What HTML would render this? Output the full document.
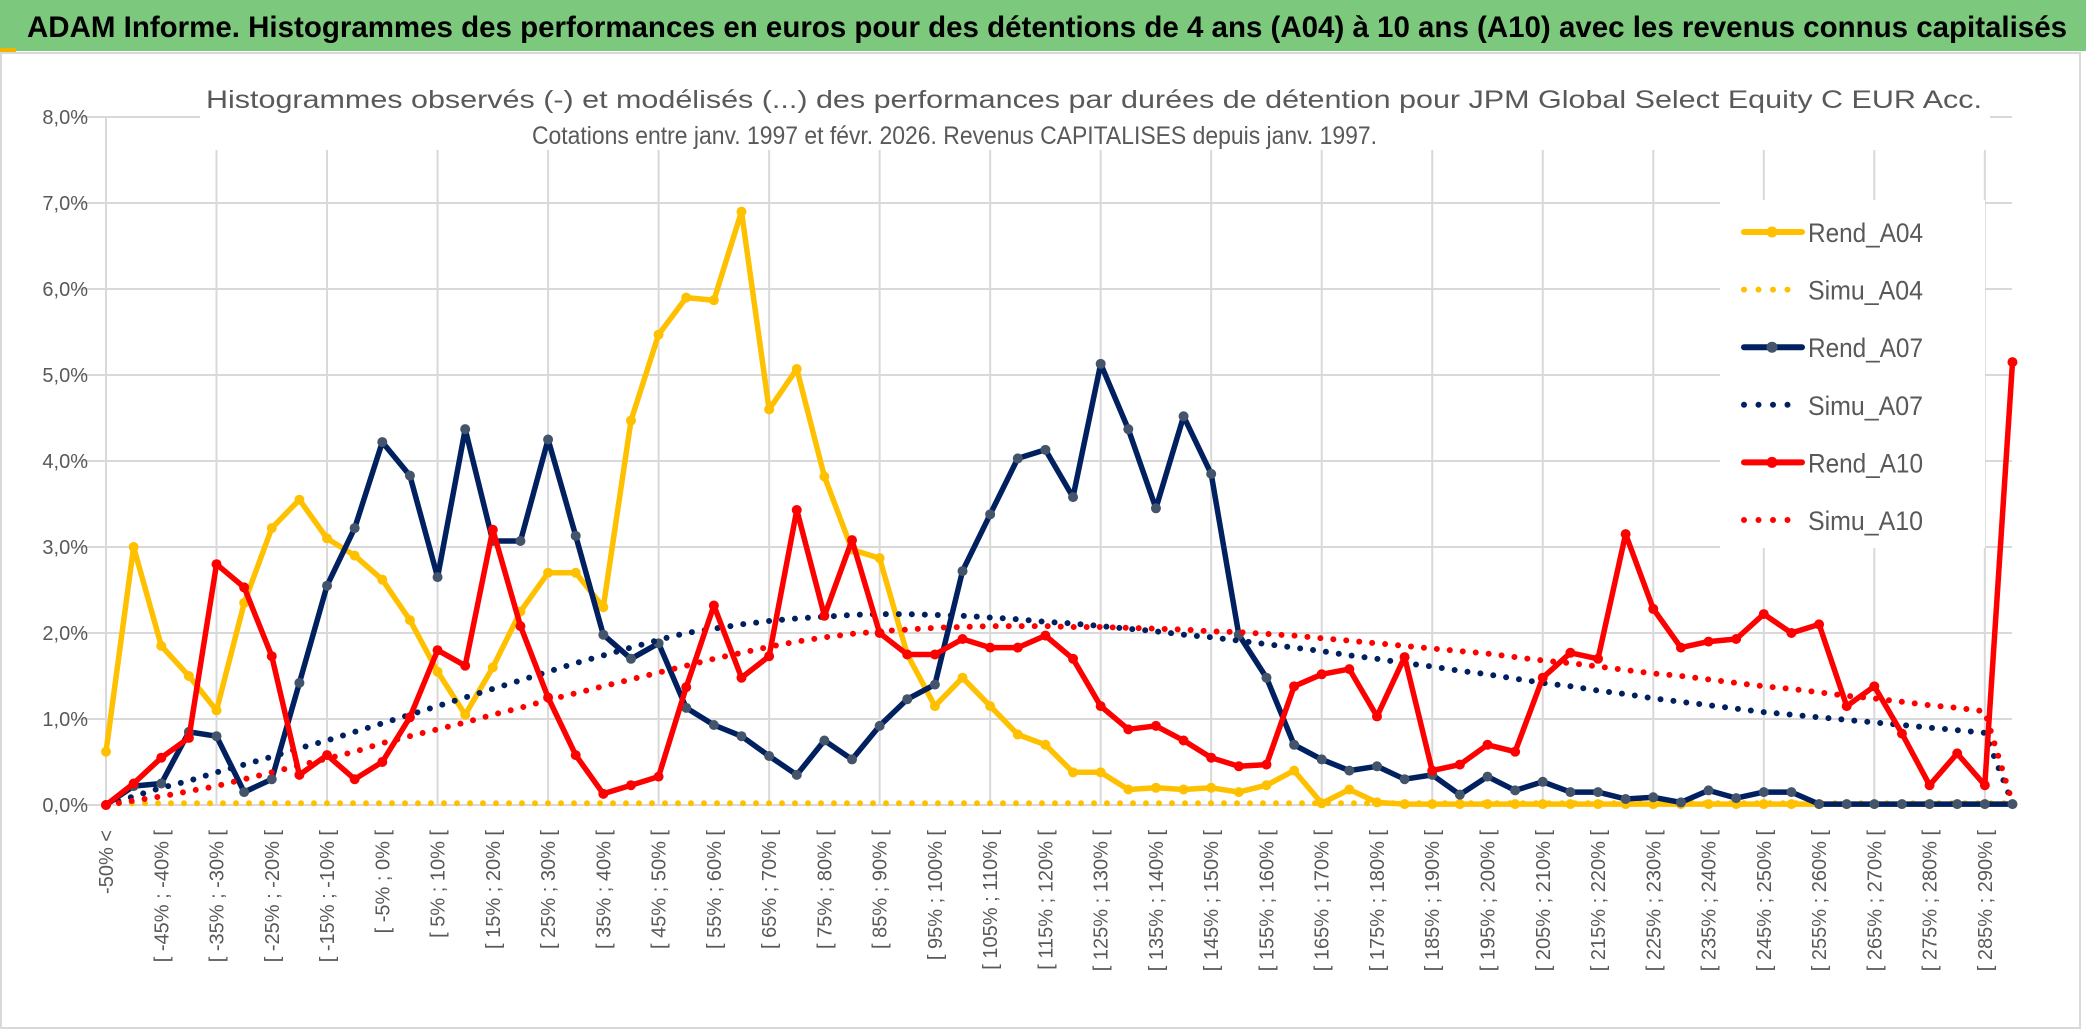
<!DOCTYPE html>
<html><head><meta charset="utf-8">
<style>
html,body{margin:0;padding:0;background:#fff;}
svg{display:block;font-family:"Liberation Sans",sans-serif;}
</style></head>
<body>
<svg id="chart" width="2086" height="1031" viewBox="0 0 2086 1031" xmlns="http://www.w3.org/2000/svg">
<rect x="0" y="0" width="2086" height="1031" fill="#fff"/>
<rect x="0" y="0" width="2086" height="51" fill="#7cc87c"/>
<rect x="0" y="48" width="16" height="4" fill="#f0b400"/>
<text x="27" y="37" font-size="30" font-weight="bold" fill="#000" textLength="2040" lengthAdjust="spacingAndGlyphs">ADAM Informe. Histogrammes des performances en euros pour des détentions de 4 ans (A04) à 10 ans (A10) avec les revenus connus capitalisés</text>
<rect x="1" y="53" width="2079" height="975" fill="none" stroke="#d9d9d9" stroke-width="2"/>
<g id="grid"></g>
<g id="yticks"></g>
<g id="xticks"></g>
<rect x="200" y="70" width="1790" height="80" fill="#fff"/>
<text x="206" y="108" font-size="25" fill="#595959" textLength="1776" lengthAdjust="spacingAndGlyphs">Histogrammes observés (-) et modélisés (...) des performances par durées de détention pour JPM Global Select Equity C EUR Acc.</text>
<text x="532" y="144" font-size="25" fill="#595959" textLength="845" lengthAdjust="spacingAndGlyphs">Cotations entre janv. 1997 et févr. 2026. Revenus CAPITALISES depuis janv. 1997.</text>
<g id="series"></g>
<g id="legend"></g>
</svg>
<script>
const rendA04 = [0.62,3.0,1.85,1.5,1.1,2.35,3.22,3.55,3.1,2.9,2.62,2.15,1.55,1.05,1.6,2.25,2.7,2.7,2.3,4.47,5.47,5.9,5.87,6.9,4.6,5.07,3.82,2.97,2.87,1.75,1.15,1.48,1.15,0.82,0.7,0.38,0.38,0.18,0.2,0.18,0.2,0.15,0.23,0.4,0.02,0.18,0.03,0.01,0.01,0.01,0.01,0.01,0.01,0.01,0.01,0.01,0.01,0.01,0.01,0.01,0.01,0.01,0.01,0.01,0.01,0.01,0.01,0.01,0.01,0.01];
const simuA04 = [0.02,0.02,0.02,0.02,0.02,0.02,0.02,0.02,0.02,0.02,0.02,0.02,0.02,0.02,0.02,0.02,0.02,0.02,0.02,0.02,0.02,0.02,0.02,0.02,0.02,0.02,0.02,0.02,0.02,0.02,0.02,0.02,0.02,0.02,0.02,0.02,0.02,0.02,0.02,0.02,0.02,0.02,0.02,0.02,0.02,0.02,0.02,0.02,0.02,0.02,0.02,0.02,0.02,0.02,0.02,0.02,0.02,0.02,0.02,0.02,0.02,0.02,0.02,0.02,0.02,0.02,0.02,0.02,0.02,0.02];
const rendA07 = [0,0.22,0.25,0.85,0.8,0.15,0.3,1.42,2.55,3.22,4.22,3.83,2.65,4.37,3.07,3.07,4.25,3.13,1.98,1.7,1.88,1.13,0.93,0.8,0.57,0.35,0.75,0.53,0.92,1.23,1.4,2.72,3.38,4.03,4.13,3.58,5.13,4.37,3.45,4.52,3.85,1.98,1.48,0.7,0.53,0.4,0.45,0.3,0.35,0.12,0.33,0.17,0.27,0.15,0.15,0.07,0.09,0.03,0.17,0.08,0.15,0.15,0.01,0.01,0.01,0.01,0.01,0.01,0.01,0.01];
const simuA07 = [0,0.1,0.2,0.28,0.38,0.47,0.56,0.66,0.75,0.85,0.95,1.05,1.15,1.25,1.35,1.45,1.55,1.65,1.74,1.83,1.92,2.0,2.05,2.1,2.14,2.17,2.19,2.21,2.22,2.22,2.21,2.2,2.18,2.16,2.13,2.11,2.08,2.05,2.02,1.98,1.95,1.91,1.87,1.83,1.79,1.74,1.7,1.65,1.61,1.56,1.52,1.47,1.42,1.38,1.33,1.29,1.24,1.2,1.16,1.12,1.08,1.05,1.02,0.99,0.96,0.93,0.9,0.87,0.84,0.02];
const rendA10 = [0,0.25,0.55,0.78,2.8,2.53,1.73,0.35,0.58,0.3,0.5,1.02,1.8,1.62,3.2,2.08,1.25,0.58,0.13,0.23,0.33,1.37,2.32,1.48,1.73,3.43,2.2,3.08,2.0,1.75,1.75,1.93,1.83,1.83,1.97,1.7,1.15,0.88,0.92,0.75,0.55,0.45,0.47,1.38,1.52,1.58,1.03,1.72,0.4,0.47,0.7,0.62,1.48,1.77,1.7,3.15,2.28,1.83,1.9,1.93,2.22,2.0,2.1,1.15,1.38,0.83,0.23,0.6,0.23,5.15];
const simuA10 = [0,0.05,0.1,0.16,0.22,0.3,0.38,0.46,0.54,0.62,0.72,0.8,0.88,0.96,1.05,1.13,1.22,1.3,1.38,1.46,1.54,1.62,1.7,1.77,1.84,1.9,1.95,1.99,2.02,2.04,2.06,2.07,2.08,2.08,2.08,2.07,2.07,2.06,2.05,2.04,2.02,2.01,1.99,1.97,1.94,1.91,1.88,1.85,1.82,1.79,1.76,1.72,1.68,1.65,1.61,1.57,1.53,1.5,1.46,1.42,1.38,1.35,1.31,1.27,1.24,1.2,1.16,1.13,1.09,0.02];
const yTicks = [0,1,2,3,4,5,6,7,8];
const yTickLabels = ["0,0%","1,0%","2,0%","3,0%","4,0%","5,0%","6,0%","7,0%","8,0%"];
const categories = ["-50% <"];
for (let k = 1; k < 70; k++) {
  const lo = -50 + 5*(k-1), hi = lo + 5;
  categories.push("[ " + lo + "% ; " + hi + "% [");
}

const NS = "http://www.w3.org/2000/svg";
const X0 = 106, DX = 27.63, Y0 = 805, DY = 86;
function xPos(i){ return X0 + i*DX; }
function yPos(v){ return Y0 - v*DY; }
function mk(tag, attrs, parent){
  const e = document.createElementNS(NS, tag);
  for (const k in attrs) e.setAttribute(k, attrs[k]);
  parent.appendChild(e);
  return e;
}

const grid = document.getElementById('grid');
yTicks.forEach((t) => {
  const l = mk('line', {x1:79, x2:2012, y1:yPos(t), y2:yPos(t), stroke:'#d9d9d9', 'stroke-width':2}, grid);
  
  
});
for (let i = 0; i < categories.length; i += 4) {
  const l = mk('line', {x1:xPos(i), x2:xPos(i), y1:yPos(8), y2:yPos(0), stroke:'#d9d9d9', 'stroke-width':2}, grid);
  
  
}
const yt = document.getElementById('yticks');
yTicks.forEach((t, k) => {
  const e = mk('text', {x:88, y:yPos(t)+7, 'text-anchor':'end', 'font-size':20, fill:'#595959'}, yt);
  e.textContent = yTickLabels[k];
  
  
});
const xt = document.getElementById('xticks');
for (let i = 0; i < categories.length; i += 2) {
  const x = xPos(i) + 7, y = 830;
  const e = mk('text', {x:x, y:y, 'text-anchor':'end', 'font-size':20, fill:'#595959', transform:'rotate(-90 '+x+' '+y+')'}, xt);
  e.textContent = categories[i];
  
  
}

const ser = document.getElementById('series');
function pts(arr){ return arr.map((v,i)=>xPos(i).toFixed(1)+','+yPos(v).toFixed(1)).join(' '); }
function solid(arr, color, marker, name){
  const g = mk('g', {}, ser);
  
  
  const p = mk('polyline', {points:pts(arr), fill:'none', stroke:color, 'stroke-width':5.5, 'stroke-linejoin':'round'}, g);
  
  
  arr.forEach((v,i) => {
    const c = mk('circle', {cx:xPos(i), cy:yPos(v), r:5, fill:marker}, g);
    
    
  });
}
function dotted(arr, color, name){
  const p = mk('polyline', {points:pts(arr), fill:'none', stroke:color, 'stroke-width':6, 'stroke-linecap':'round', 'stroke-dasharray':'0 13'}, ser);
  
  
}
solid(rendA04, '#ffc000', '#ffc000', 'rend-a04');
dotted(simuA04, '#ffc000', 'simu-a04');
solid(rendA07, '#002060', '#44546a', 'rend-a07');
dotted(simuA07, '#002060', 'simu-a07');
solid(rendA10, '#ff0000', '#ff0000', 'rend-a10');
dotted(simuA10, '#ff0000', 'simu-a10');

const lg = document.getElementById('legend');
mk('rect', {x:1720, y:200, width:265, height:348, fill:'#fff'}, lg);
const legendNames = ["Rend_A04","Simu_A04","Rend_A07","Simu_A07","Rend_A10","Simu_A10"];
const legendColors = ["#ffc000","#ffc000","#002060","#002060","#ff0000","#ff0000"];
const legendMarkers = ["#ffc000",null,"#44546a",null,"#ff0000",null];
legendNames.forEach((n,k) => {
  const y = 232 + k*57.6;
  const g = mk('g', {}, lg);
  
  
  if (legendMarkers[k]) {
    mk('line', {x1:1744, x2:1802, y1:y, y2:y, stroke:legendColors[k], 'stroke-width':6, 'stroke-linecap':'round'}, g);
    mk('circle', {cx:1772, cy:y, r:5.5, fill:legendMarkers[k]}, g);
  } else {
    mk('line', {x1:1744, x2:1802, y1:y, y2:y, stroke:legendColors[k], 'stroke-width':6, 'stroke-linecap':'round', 'stroke-dasharray':'0 14.5'}, g);
  }
  const t = mk('text', {x:1808, y:y+10, 'font-size':27, fill:'#595959', textLength:115, lengthAdjust:'spacingAndGlyphs'}, g);
  t.textContent = n;
});
</script>
</body></html>
